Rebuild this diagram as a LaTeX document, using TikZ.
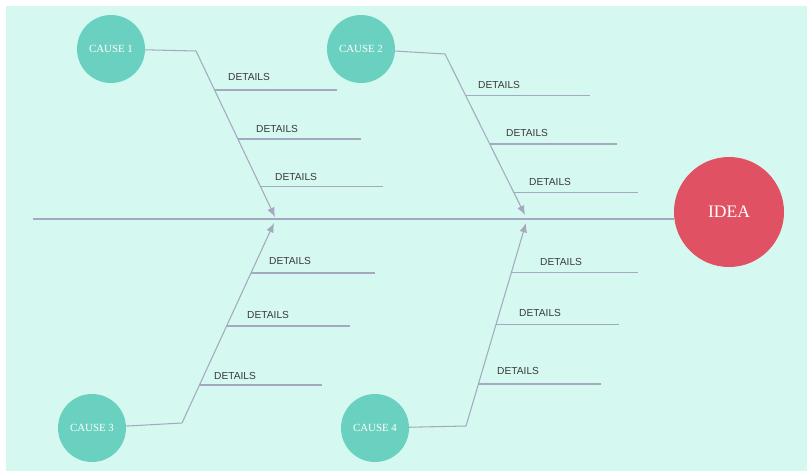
\documentclass[tikz,border=0pt]{standalone}
\usepackage{fontspec}
\setmainfont{Liberation Serif}
\newfontfamily\detailfont{Liberation Sans}
\usetikzlibrary{positioning}
\usetikzlibrary{calc}
\usetikzlibrary{arrows.meta}
\definecolor{mintback}{HTML}{D5F8F0}
\definecolor{causeteal}{HTML}{6AD1C0}
\definecolor{ideared}{HTML}{E05263}
\definecolor{bonegray}{HTML}{A3AABF}
\definecolor{textgray}{HTML}{3A3A3A}

\begin{document}
\begin{tikzpicture}
			[
				x = 0.03cm, y = -0.03cm,
				mycause/.style = {circle, fill = causeteal, text = white, inner sep = 0pt, minimum size = 2.04cm, font = \fontsize{9.3}{10}\selectfont},
				myidea/.style = {circle, fill = ideared, text = white, inner sep = 0pt, minimum size = 3.3cm, font = \fontsize{15}{16}\selectfont},
				mybone/.style = {draw = bonegray, line width = 0.9pt, line join = round},
				myarrow/.style = {mybone, -{Latex[length = 8pt, width = 6.5pt]}},
				mydetail/.style = {anchor = west, inner sep = 0pt, text = textgray, font = \detailfont\fontsize{8.7}{9}\selectfont}
			]
			%
			\useasboundingbox (0,0) rectangle (807,473);
			\fill [white] (0,0) rectangle (807,473);
			\fill [mintback] (6,6) rectangle (807,471);
			%
			\node (idea) [myidea] at (729,212) {IDEA};
			\coordinate (spinestart) at (33,219);
			\draw [mybone] (spinestart) -- (spinestart -| idea.west);
			%
			% upper causes
			\node (cause1) [mycause] at (111,49) {CAUSE 1};
			\coordinate (bend1) at (196,51);
			\coordinate (tip1) at (275,217);
			\draw [myarrow] (cause1) -- (bend1) -- (tip1)
				node (aux11) [coordinate, pos = 0.235] {}
				node (aux12) [coordinate, pos = 0.53] {}
				node (aux13) [coordinate, pos = 0.819] {};
			%
			\node (cause2) [mycause] at (361,49) {CAUSE 2};
			\coordinate (bend2) at (445,54);
			\coordinate (tip2) at (525,215);
			\draw [myarrow] (cause2) -- (bend2) -- (tip2)
				node (aux21) [coordinate, pos = 0.255] {}
				node (aux22) [coordinate, pos = 0.559] {}
				node (aux23) [coordinate, pos = 0.863] {};
			%
			% lower causes
			\node (cause3) [mycause] at (92,428) {CAUSE 3};
			\coordinate (bend3) at (182,423);
			\coordinate (tip3) at (274,223);
			\draw [myarrow] (cause3) -- (bend3) -- (tip3)
				node (aux31) [coordinate, pos = 0.19] {}
				node (aux32) [coordinate, pos = 0.485] {}
				node (aux33) [coordinate, pos = 0.75] {};
			%
			\node (cause4) [mycause] at (375,428) {CAUSE 4};
			\coordinate (bend4) at (466,426);
			\coordinate (tip4) at (526,223);
			\draw [myarrow] (cause4) -- (bend4) -- (tip4)
				node (aux41) [coordinate, pos = 0.207] {}
				node (aux42) [coordinate, pos = 0.502] {}
				node (aux43) [coordinate, pos = 0.754] {};
			%
			% details
			\coordinate (end11) at (337,0);
			\coordinate (end12) at (361,0);
			\coordinate (end13) at (383,0);
			\coordinate (end21) at (590,0);
			\coordinate (end22) at (617,0);
			\coordinate (end23) at (638,0);
			\coordinate (end31) at (322,0);
			\coordinate (end32) at (350,0);
			\coordinate (end33) at (375,0);
			\coordinate (end41) at (601,0);
			\coordinate (end42) at (619,0);
			\coordinate (end43) at (638,0);
			\foreach \c in {1,2,3,4}
				\foreach \d in {1,2,3}
					\draw [mybone] (aux\c\d) -- (aux\c\d -| end\c\d);
			%
			\node (text11) [mydetail] at (228,77) {DETAILS};
			\node (text12) [mydetail] at (256,129) {DETAILS};
			\node (text13) [mydetail] at (275,177) {DETAILS};
			\node (text21) [mydetail] at (478,85) {DETAILS};
			\node (text22) [mydetail] at (506,133) {DETAILS};
			\node (text23) [mydetail] at (529,182) {DETAILS};
			\node (text31) [mydetail] at (214,376) {DETAILS};
			\node (text32) [mydetail] at (247,315) {DETAILS};
			\node (text33) [mydetail] at (269,261) {DETAILS};
			\node (text41) [mydetail] at (497,371) {DETAILS};
			\node (text42) [mydetail] at (519,313) {DETAILS};
			\node (text43) [mydetail] at (540,262) {DETAILS};
			%
		\end{tikzpicture}
\end{document}
